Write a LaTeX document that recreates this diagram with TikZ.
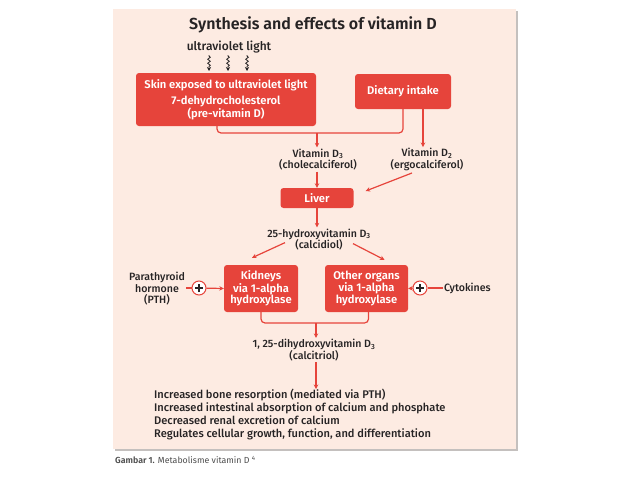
\documentclass[tikz,border=0pt]{standalone}
\usepackage{fontspec}
\setmainfont{Fira Sans}[BoldFont={Fira Sans SemiBold}]
\newfontfamily\vdmedium{Fira Sans Medium}
\usetikzlibrary{arrows.meta}
\usetikzlibrary{decorations.pathmorphing}
\definecolor{vdred}{HTML}{E6443B}
\definecolor{vdpeach}{HTML}{FDEBE2}
\definecolor{vdtext}{HTML}{262324}
\definecolor{vdshadow}{HTML}{C4C0BE}
\tikzset{
      redbox/.style={fill=vdred, rounded corners=3, text=white, align=center, inner sep=0,
            font=\bfseries\fontsize{11.2}{10.5}\selectfont},
      chem/.style={text=vdtext, align=center, inner sep=1,
            font=\vdmedium\fontsize{10.6}{11.8}\selectfont},
      link/.style={draw=vdred, line width=1.2},
      arrowlink/.style={draw=vdred, line width=1.2, -{Stealth[length=4.5pt, width=4.5pt]}},
      uvray/.style={decorate, decoration={snake, amplitude=1.3, segment length=4, pre length=1, post length=4},
            draw=vdtext, line width=0.8, -{Stealth[length=4pt, width=4pt]}},
      plussign/.style={circle, draw=vdred, fill=white, line width=1, minimum size=14, inner sep=0,
            path picture={\draw[vdtext, line width=2.4]
                  ([xshift=-4]path picture bounding box.center) -- ([xshift=4]path picture bounding box.center)
                  ([yshift=-4]path picture bounding box.center) -- ([yshift=4]path picture bounding box.center);}},
}

\begin{document}
\begin{tikzpicture}[x=1pt, y=-1pt]

        \useasboundingbox (0,0) rectangle (638,479);
        \fill[vdshadow] (115,11) rectangle (518,451);
        \fill[vdpeach] (113,9) rectangle (516,449);

        \node[text=vdtext, font=\bfseries\fontsize{16}{18}\selectfont] (title) at (313,25) {Synthesis and effects of vitamin D};
        \node[chem, font=\vdmedium\fontsize{12}{13}\selectfont] (uv) at (229,47) {ultraviolet light};

        \node[redbox, minimum width=180, minimum height=53] (skin) at (226,99.5)
              {Skin exposed to ultraviolet light\\[4pt]7-dehydrocholesterol\\(pre-vitamin D)};
        \node[redbox, minimum width=96, minimum height=35] (diet) at (403,91.5) {Dietary intake};

        \foreach \x in {209,228,247}
              \draw[uvray] (\x,55) -- (\x,71);

        \node[chem] (d3) at (318,159.5) {Vitamin D\textsubscript{3}\\(cholecalciferol)};
        \node[chem] (d2) at (427,159.5) {Vitamin D\textsubscript{2}\\(ergocalciferol)};
        \node[redbox, minimum width=73, minimum height=20] (liver) at (317,198) {Liver};
        \node[chem] (calcidiol) at (319,239.5) {25-hydroxyvitamin D\textsubscript{3}\\(calcidiol)};

        \node[redbox, minimum width=74, minimum height=47] (kidney) at (261,288.5)
              {Kidneys\\via 1-alpha\\hydroxylase};
        \node[redbox, minimum width=83, minimum height=47] (organs) at (366.5,288.5)
              {Other organs\\via 1-alpha\\hydroxylase};
        \node[chem, font=\vdmedium\fontsize{10.6}{11.5}\selectfont] (pth) at (157,289) {Parathyroid\\hormone\\(PTH)};
        \node[plussign] (plusl) at (199,288) {};
        \node[plussign] (plusr) at (420,288) {};
        \node[chem, anchor=west] (cyto) at (443,288) {Cytokines};

        \node[chem] (calcitriol) at (314,350) {1, 25-dihydroxyvitamin D\textsubscript{3}\\(calcitriol)};
        \node[chem, anchor=north west, align=left, inner sep=0, font=\vdmedium\fontsize{11.1}{13}\selectfont] (effects) at (154,389)
              {Increased bone resorption (mediated via PTH)\\
               Increased intestinal absorption of calcium and phosphate\\
               Decreased renal excretion of calcium\\
               Regulates cellular growth, function, and differentiation};

        \node[anchor=west, inner sep=0, text=black!70, font=\fontsize{8.8}{10}\selectfont] (caption) at (115,460)
              {\textbf{Gambar 1.} Metabolisme vitamin D \textsuperscript{4}};

        % skin and diet join
        \coordinate (topjoin) at (317,133);
        \draw[link, rounded corners=4] ([xshift=-9]skin.south) |- (topjoin) -| (diet.south);
        \draw[arrowlink] (topjoin) -- (topjoin |- d3.north);
        \draw[arrowlink] ([xshift=20]diet.south) -- ([xshift=20]diet.south |- d2.north);

        \draw[arrowlink] (liver.north |- d3.south) -- (liver.north);
        \draw[arrowlink] ([xshift=-15,yshift=-1]d2.south) -- ([xshift=12,yshift=7]liver.east);
        \draw[arrowlink] (liver.south) -- (liver.south |- calcidiol.north);

        \draw[arrowlink] ([xshift=-34,yshift=9]calcidiol.south) -- ([xshift=-9,yshift=7]kidney.north);
        \draw[arrowlink] ([xshift=34,yshift=8]calcidiol.south) -- ([xshift=18,yshift=5]organs.north);

        \draw[link] (pth.east |- plusl) -- (plusl);
        \draw[arrowlink] (plusl) -- (kidney.west);
        \draw[link] (cyto.west) -- (plusr);
        \draw[arrowlink] (plusr) -- (organs.east);

        % kidney and organs join
        \coordinate (lowjoin) at (316,323);
        \draw[link, rounded corners=4] (kidney.south) |- (lowjoin) -| ([xshift=2]organs.south);
        \draw[arrowlink] (lowjoin) -- (lowjoin |- calcitriol.north);
        \draw[arrowlink] (lowjoin |- calcitriol.south) -- (lowjoin |- effects.north);

\end{tikzpicture}
\end{document}
